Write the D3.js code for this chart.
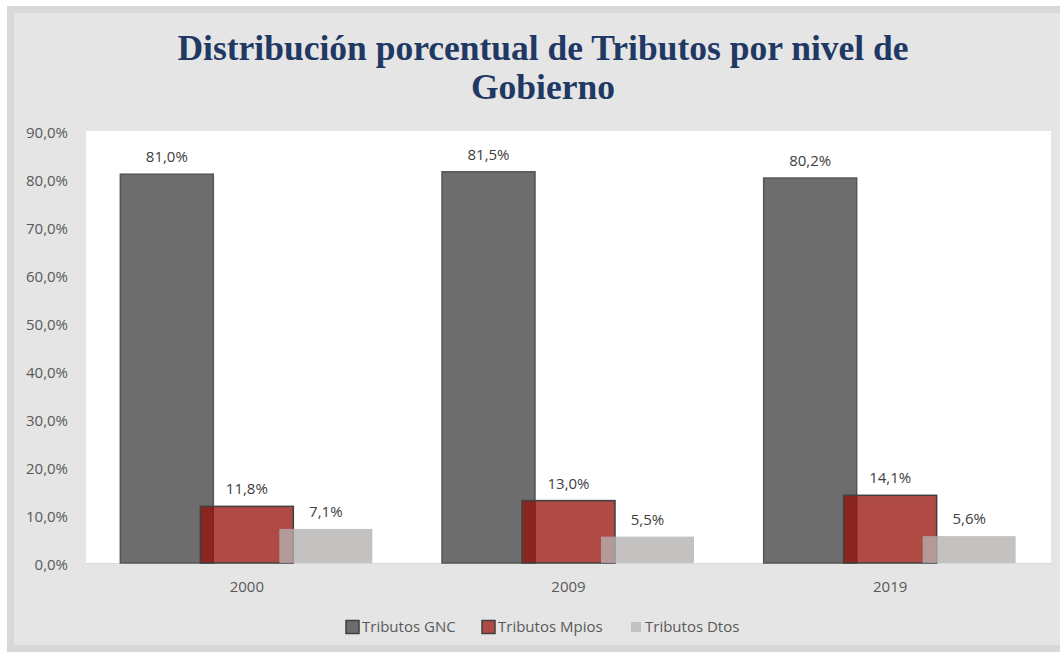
<!DOCTYPE html>
<html>
<head>
<meta charset="utf-8">
<script src="https://cdn.jsdelivr.net/npm/d3@7"></script>
<style>
  body { margin: 0; background: #fff; }
  text { font-family: "Open Sans", "Noto Sans", sans-serif; }
  .titulo { font-family: "Liberation Serif", serif; font-weight: bold; fill: #1f3864; }
</style>
</head>
<body>
<svg id="grafico"></svg>
<script>
// datos del gráfico
const anios = ['2000', '2009', '2019'];
const series = ['Tributos GNC', 'Tributos Mpios', 'Tributos Dtos'];
const tributosGNC = [81.0, 81.5, 80.2];
const tributosMpios = [11.8, 13.0, 14.1];
const tributosDtos = [7.1, 5.5, 5.6];
const ticksY = [0, 10, 20, 30, 40, 50, 60, 70, 80, 90];

const largura = 1060, altura = 655;
const svg = d3.select('#grafico').attr('width', largura).attr('height', altura);

// marco gris
svg.append('rect').attr('x', 10.5).attr('y', 9.5).attr('width', 1060).attr('height', 639)
  .attr('fill', '#e5e5e5').attr('stroke', '#d8d8d8').attr('stroke-width', 7);

// titulo
const titulo = svg.append('text').attr('class', 'titulo').attr('text-anchor', 'middle').attr('font-size', 35.5);
titulo.append('tspan').attr('x', 543).attr('y', 60).text('Distribución porcentual de Tributos por nivel de');
titulo.append('tspan').attr('x', 543).attr('y', 99).text('Gobierno');

// área de trazado
const margem = { esquerda: 86, direita: 9, superior: 131, inferior: 92 };
const larguraPlot = largura - margem.esquerda - margem.direita;
const alturaPlot = altura - margem.superior - margem.inferior;
const plot = svg.append('g').attr('transform', `translate(${margem.esquerda},${margem.superior})`);
plot.append('rect').attr('width', larguraPlot).attr('height', alturaPlot).attr('fill', '#fff');

const x = d3.scaleBand().domain(anios).range([0, larguraPlot]);
const y = d3.scaleLinear().domain([0, 90]).range([alturaPlot, 0]);
const fmt = v => d3.format('.1f')(v).replace('.', ',') + '%';

// eje Y
const eixoY = plot.append('g').call(d3.axisLeft(y).tickValues(ticksY).tickSize(0).tickPadding(18).tickFormat(fmt));
eixoY.select('.domain').remove();
eixoY.selectAll('text').attr('font-size', 15).attr('fill', '#595959').attr('dy', '0.4em')
  .style('font-family', '"Open Sans", sans-serif');

// eje X
const eixoX = plot.append('g').attr('transform', `translate(0,${alturaPlot})`)
  .call(d3.axisBottom(x).tickSize(0).tickPadding(18));
eixoX.select('.domain').attr('stroke', '#d9d9d9');
eixoX.selectAll('text').attr('font-size', 15).attr('fill', '#595959')
  .style('font-family', '"Open Sans", sans-serif');

// series superpuestas
const estilos = [
  { valores: tributosGNC, desloc: -80, fill: '#6d6d6d', stroke: '#555', op: 1 },
  { valores: tributosMpios, desloc: 0, fill: 'rgb(149,13,6)', stroke: '#404040', op: 0.75 },
  { valores: tributosDtos, desloc: 79, fill: 'rgb(179,176,175)', stroke: 'none', op: 0.78 }
];
const larguraBarra = 93;
estilos.forEach(s => {
  const dados = anios.map((a, i) => ({ chave: a, valor: s.valores[i] }));
  const centro = d => x(d.chave) + x.bandwidth() / 2 + s.desloc;
  plot.selectAll(null).data(dados).enter().append('rect')
    .attr('x', d => centro(d) - larguraBarra / 2)
    .attr('y', d => y(d.valor))
    .attr('width', larguraBarra)
    .attr('height', d => alturaPlot - y(d.valor))
    .attr('fill', s.fill).attr('fill-opacity', s.op)
    .attr('stroke', s.stroke).attr('stroke-width', 1.5);
  plot.selectAll(null).data(dados).enter().append('text')
    .attr('x', centro)
    .attr('y', d => y(d.valor) - 12)
    .attr('text-anchor', 'middle')
    .attr('font-size', 15).attr('fill', '#404040')
    .text(d => fmt(d.valor));
});

// leyenda
const legenda = [
  { x: 346, fill: '#6d6d6d', stroke: '#404040', tam: 13 },
  { x: 482, fill: '#b04a45', stroke: '#404040', tam: 13 },
  { x: 631, fill: '#c3c1c0', stroke: 'none', tam: 10 }
];
legenda.forEach((l, i) => {
  svg.append('rect').attr('x', l.x).attr('y', 627 - l.tam / 2).attr('width', l.tam).attr('height', l.tam)
    .attr('fill', l.fill).attr('stroke', l.stroke).attr('stroke-width', 1.5);
  svg.append('text').attr('x', l.x + (l.tam === 13 ? 16 : 14)).attr('y', 632)
    .attr('font-size', 15).attr('fill', '#595959').text(series[i]);
});
</script>
</body>
</html>
